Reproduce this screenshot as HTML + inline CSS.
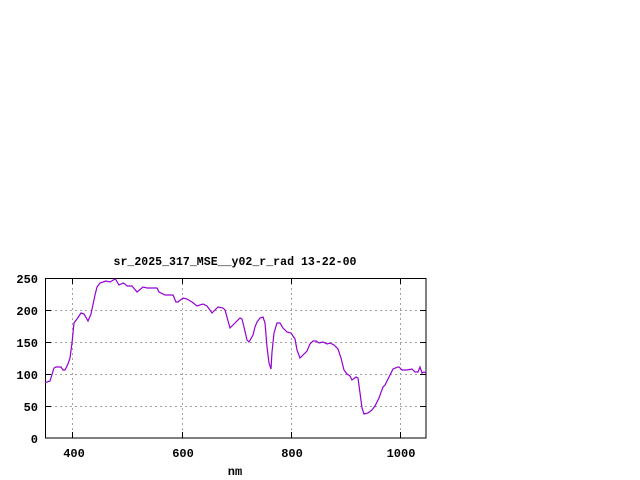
<!DOCTYPE html>
<html><head><style>
html,body{margin:0;padding:0;background:#fff;}
svg{display:block;}
text{font-family:"Liberation Mono",monospace;font-weight:bold;font-size:12px;fill:#000;}
</style></head><body>
<svg width="640" height="480" viewBox="0 0 640 480" xmlns="http://www.w3.org/2000/svg">
<rect width="640" height="480" fill="#fff"/>
<g stroke="#a0a0a0" stroke-width="1" stroke-dasharray="2,3" shape-rendering="crispEdges">
<line x1="45" y1="406.5" x2="426" y2="406.5"/>
<line x1="45" y1="374.5" x2="426" y2="374.5"/>
<line x1="45" y1="342.5" x2="426" y2="342.5"/>
<line x1="45" y1="310.5" x2="426" y2="310.5"/>
<line x1="72.5" y1="278" x2="72.5" y2="438"/>
<line x1="182.5" y1="278" x2="182.5" y2="438"/>
<line x1="291.5" y1="278" x2="291.5" y2="438"/>
<line x1="400.5" y1="278" x2="400.5" y2="438"/>
</g>
<g stroke="#000" stroke-width="1" shape-rendering="crispEdges">
<rect x="45.5" y="278.5" width="380.5" height="159.5" fill="none"/>
<line x1="45" y1="406.5" x2="51" y2="406.5"/><line x1="420" y1="406.5" x2="426" y2="406.5"/>
<line x1="45" y1="374.5" x2="51" y2="374.5"/><line x1="420" y1="374.5" x2="426" y2="374.5"/>
<line x1="45" y1="342.5" x2="51" y2="342.5"/><line x1="420" y1="342.5" x2="426" y2="342.5"/>
<line x1="45" y1="310.5" x2="51" y2="310.5"/><line x1="420" y1="310.5" x2="426" y2="310.5"/>
<line x1="72.5" y1="438" x2="72.5" y2="432"/><line x1="72.5" y1="278" x2="72.5" y2="284"/>
<line x1="182.5" y1="438" x2="182.5" y2="432"/><line x1="182.5" y1="278" x2="182.5" y2="284"/>
<line x1="291.5" y1="438" x2="291.5" y2="432"/><line x1="291.5" y1="278" x2="291.5" y2="284"/>
<line x1="400.5" y1="438" x2="400.5" y2="432"/><line x1="400.5" y1="278" x2="400.5" y2="284"/>
</g>
<g text-anchor="end">
<text x="38" y="443">0</text>
<text x="38" y="411">50</text>
<text x="38" y="379">100</text>
<text x="38" y="347">150</text>
<text x="38" y="315">200</text>
<text x="38" y="283">250</text>
</g>
<g text-anchor="middle">
<text x="74" y="457">400</text>
<text x="183" y="457">600</text>
<text x="292" y="457">800</text>
<text x="401" y="457">1000</text>
<text x="235" y="475">nm</text>
<text x="235" y="265" textLength="243" lengthAdjust="spacingAndGlyphs">sr_2025_317_MSE__y02_r_rad 13-22-00</text>
</g>
<polyline fill="none" stroke="#9400d3" stroke-width="1.2" points="45,382.7 50,381 54,368 56,367 61,367 63,370 65,370 68,364 70,358 72,343 74,323 77,319 81,313 84,314 88,321 91,314 95,295 97,287 100,283 106,281 110,282 115,279 116,280 119,285 123,283 125,284 127,286 132,286 137,292 143,287 147,288 157,288 159,292 165,295 168,295 173,295 176,302 178,302 183,298 187,299 192,302 197,306 203,304 207,306 212,313 218,307 223,308 225,310 230,328 235,323 240,318 242,319 244,327 247,340 249,342 253,335 255,327 257,322 260,318 263,317 265,323 267,347 269,363 271,369 272,352 274,333 277,323 280,323 283,328 287,332 291,333 295,339 297,350 300,358 303,355 307,351 310,344 313,341 316,341 319,343 323,342 327,344 330,343 334,345 338,349 341,358 344,370 347,374 350,376 352,380 356,377 358,378 360,393 362,408 364,414 368,413 372,410 375,406 379,398 383,387 385,385 390,375 393,369 398,367 399,367 402,370 407,370 412,369 415,372 418,372 420,367 422,373 424,372 426,373"/>
</svg>
</body></html>
